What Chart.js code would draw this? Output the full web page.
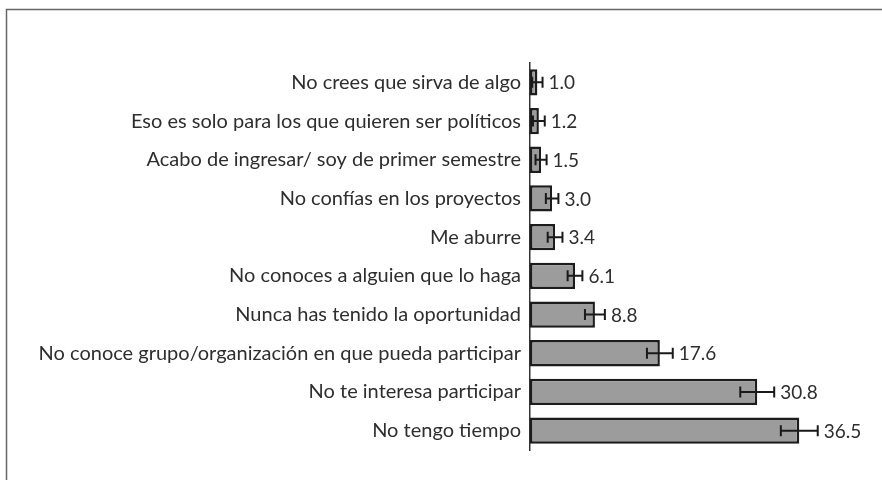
<!DOCTYPE html>
<html lang="es">
  <head>
    <meta charset="UTF-8" />
    <title>Razones para no participar</title>
    <script src="https://cdn.jsdelivr.net/npm/chart.js"></script>
    <style>
      html, body { margin: 0; padding: 0; background: #fff; }
      #wrap { width: 882px; height: 480px; position: relative; }
    </style>
  </head>
  <body>
    <div id="wrap">
      <canvas id="razonesChart" width="882" height="480"></canvas>
    </div>

    <script>
      const categories = [
        "No crees que sirva de algo",
        "Eso es solo para los que quieren ser políticos",
        "Acabo de ingresar/ soy de primer semestre",
        "No confías en los proyectos",
        "Me aburre",
        "No conoces a alguien que lo haga",
        "Nunca has tenido la oportunidad",
        "No conoce grupo/organización en que pueda participar",
        "No te interesa participar",
        "No tengo tiempo",
      ];
      const percentages = [1.0, 1.2, 1.5, 3.0, 3.4, 6.1, 8.8, 17.6, 30.8, 36.5];
      // half-width of the error bars
      const errorMargins = [0.7, 0.8, 0.75, 0.85, 1.0, 1.0, 1.35, 1.75, 2.3, 2.5];

      // frame round the figure
      const framePlugin = {
        id: "frame",
        beforeDraw(chart) {
          const ctx = chart.ctx;
          ctx.save();
          ctx.strokeStyle = "#666";
          ctx.lineWidth = 1.5;
          ctx.beginPath();
          ctx.moveTo(6.5, 480);
          ctx.lineTo(6.5, 9.5);
          ctx.lineTo(882, 9.5);
          ctx.stroke();
          ctx.restore();
        },
      };

      // error bars + value labels
      const errorBarPlugin = {
        id: "errorBars",
        afterDatasetsDraw(chart) {
          const ctx = chart.ctx;
          const x = chart.scales.x;
          const meta = chart.getDatasetMeta(0);
          ctx.save();
          ctx.strokeStyle = "#1a1a1a";
          ctx.lineWidth = 2;
          meta.data.forEach((bar, i) => {
            const lo = x.getPixelForValue(percentages[i] - errorMargins[i]);
            const hi = x.getPixelForValue(percentages[i] + errorMargins[i]);
            const y = bar.y;
            ctx.beginPath();
            ctx.moveTo(lo, y);
            ctx.lineTo(hi, y);
            ctx.moveTo(lo, y - 5.5);
            ctx.lineTo(lo, y + 5.5);
            ctx.moveTo(hi, y - 5.5);
            ctx.lineTo(hi, y + 5.5);
            ctx.stroke();

            ctx.fillStyle = "#2e2e2e";
            ctx.font = "19px Lato";
            ctx.textBaseline = "middle";
            ctx.textAlign = "left";
            ctx.fillText(percentages[i].toFixed(1), hi + 6, y + 1);
          });
          ctx.restore();
        },
      };

      const ctx = document.getElementById("razonesChart").getContext("2d");
      new Chart(ctx, {
        type: "bar",
        data: {
          labels: categories,
          datasets: [
            {
              data: percentages,
              backgroundColor: "#9c9c9c",
              borderColor: "#1c1c1c",
              borderWidth: 2.5,
              borderSkipped: false,
              barPercentage: 0.68,
              categoryPercentage: 1,
            },
          ],
        },
        options: {
          indexAxis: "y",
          responsive: false,
          animation: false,
          layout: { padding: { left: 20, right: 20, top: 63, bottom: 30 } },
          plugins: {
            legend: { display: false },
            tooltip: { enabled: false },
          },
          scales: {
            x: {
              display: false,
              min: 0,
              max: 45,
            },
            y: {
              afterFit(scale) {
                scale.width = 510;
              },
              grid: { display: false, drawTicks: false },
              border: { display: true, color: "#333", width: 1.5 },
              ticks: {
                padding: 9,
                color: "#2e2e2e",
                font: { family: "Lato", size: 20 },
              },
            },
          },
        },
        plugins: [framePlugin, errorBarPlugin],
      });
    </script>
  </body>
</html>
